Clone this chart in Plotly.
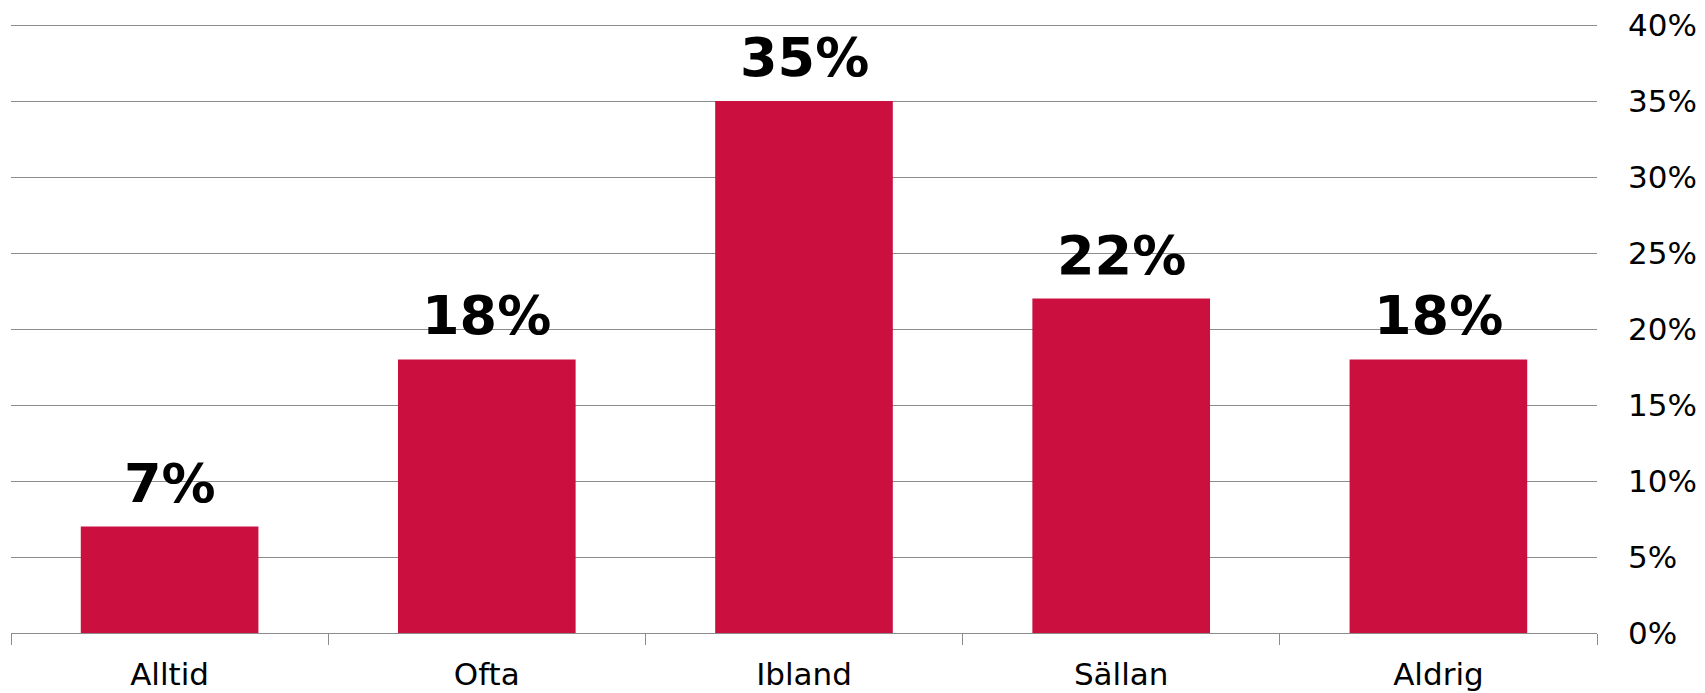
import plotly.graph_objects as go

categories = ["Alltid", "Ofta", "Ibland", "Sällan", "Aldrig"]
values = [7, 18, 35, 22, 18]
labels = ["7%", "18%", "35%", "22%", "18%"]
y_ticks = [0, 5, 10, 15, 20, 25, 30, 35, 40]
y_tick_text = ["0%", "5%", "10%", "15%", "20%", "25%", "30%", "35%", "40%"]

bar_color = "#CB1040"
grid_color = "#8C8C8C"

fig = go.Figure()
fig.add_bar(x=categories, y=values, marker_color=bar_color, marker_line_width=0)

for c, v, t in zip(categories, values, labels):
    fig.add_annotation(x=c, y=v, text="<b>" + t + "</b>", showarrow=False,
                       yanchor="bottom", yshift=10,
                       font=dict(family="DejaVu Sans", size=54, color="black"))

# page body adds an 8px margin, so the figure is a bit smaller than the window
fig.update_layout(
    width=1697, height=685,
    margin=dict(l=3, r=108, t=14, b=60),
    plot_bgcolor="white", paper_bgcolor="white",
    bargap=0.44, showlegend=False,
    font=dict(family="DejaVu Sans", size=31, color="black"),
)
fig.update_xaxes(showline=True, linecolor=grid_color, linewidth=1,
                 ticks="outside", tickson="boundaries", ticklen=11,
                 tickcolor=grid_color, showgrid=False, ticklabelstandoff=14,
                 automargin=False)
# range a touch above 40 so the top grid line is not clipped away
fig.update_yaxes(side="right", range=[0, 40.2], tickvals=y_ticks, ticktext=y_tick_text,
                 showgrid=True, gridcolor=grid_color, gridwidth=1, zeroline=False,
                 showline=False, ticklabelstandoff=30, ticklabeloverflow="allow",
                 automargin=False)

fig.write_html("out.html")
